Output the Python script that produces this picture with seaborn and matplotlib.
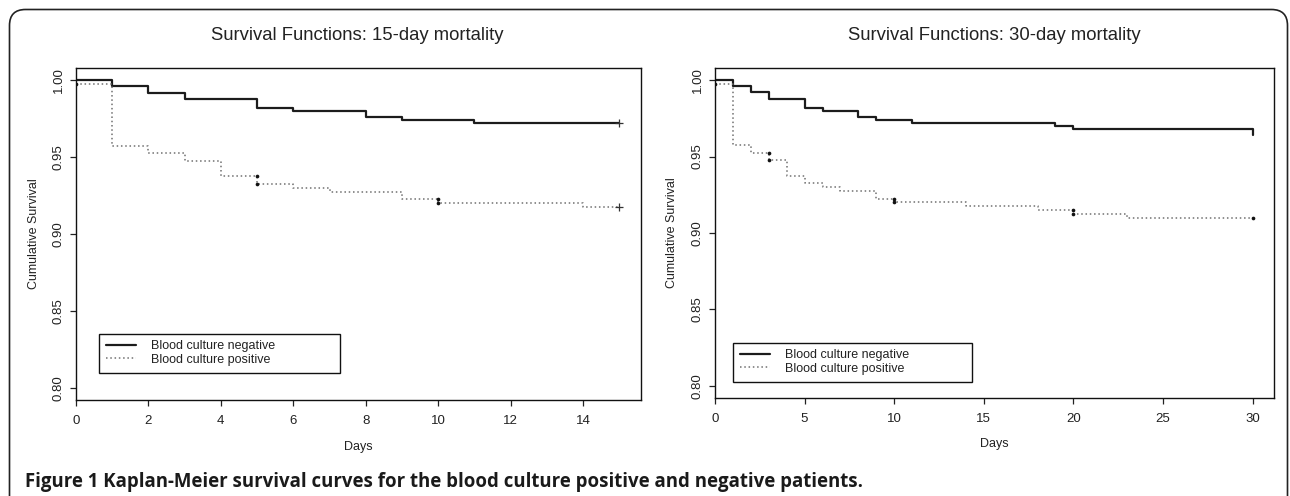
import numpy as np
import pandas as pd
import matplotlib
matplotlib.use("Agg")
import matplotlib.pyplot as plt
from matplotlib.patches import FancyBboxPatch
from matplotlib.transforms import IdentityTransform
import seaborn as sns

# ---------------- data ----------------
# 15-day panel
neg15_days = [0, 1, 2, 3, 5, 6, 8, 9, 11, 15]
neg15_surv = [1.000, 0.996, 0.992, 0.988, 0.982, 0.980, 0.976, 0.974, 0.972, 0.972]
pos15_days = [0, 1, 2, 3, 4, 5, 6, 7, 9, 10, 14, 15]
pos15_surv = [0.9975, 0.9575, 0.9525, 0.9475, 0.9375, 0.9325, 0.930, 0.9275,
              0.9225, 0.920, 0.9175, 0.9175]
dots15_days = [0, 5, 5, 10, 10]
dots15_surv = [0.9975, 0.9375, 0.9325, 0.9225, 0.920]
plus15_days = [15, 15]
plus15_surv = [0.972, 0.9175]

# 30-day panel
neg30_days = [0, 1, 2, 3, 5, 6, 8, 9, 11, 19, 20, 30]
neg30_surv = [1.000, 0.996, 0.992, 0.988, 0.982, 0.980, 0.976, 0.974, 0.972,
              0.970, 0.968, 0.964]
pos30_days = [0, 1, 2, 3, 4, 5, 6, 7, 9, 10, 14, 18, 20, 23, 30]
pos30_surv = [0.9975, 0.9575, 0.9525, 0.9475, 0.9375, 0.9325, 0.930, 0.9275,
              0.9225, 0.920, 0.9175, 0.915, 0.9125, 0.910, 0.910]
dots30_days = [0, 3, 3, 10, 10, 20, 20, 30]
dots30_surv = [0.9975, 0.9525, 0.9475, 0.9225, 0.920, 0.915, 0.9125, 0.910]

titles = ["Survival Functions: 15-day mortality", "Survival Functions: 30-day mortality"]
series_labels = ["Blood culture negative", "Blood culture positive"]
x_ticks_15 = [0, 2, 4, 6, 8, 10, 12, 14]
x_ticks_30 = [0, 5, 10, 15, 20, 25, 30]
y_ticks = [0.80, 0.85, 0.90, 0.95, 1.00]
caption = "Figure 1 Kaplan-Meier survival curves for the blood culture positive and negative patients."

# ---------------- style ----------------
sns.set_theme(style="ticks")
plt.rcParams["font.family"] = ["Liberation Sans", "DejaVu Sans"]

W, H = 1290, 496
fig = plt.figure(figsize=(W / 100, H / 100), dpi=100)
fig.patch.set_facecolor("white")

def px_axes(x0, x1, ytop, ybot):
    return fig.add_axes([x0 / W, (H - ybot) / H, (x1 - x0) / W, (ybot - ytop) / H])

ax1 = px_axes(76, 641, 68, 400)
ax2 = px_axes(715, 1274, 68, 398)

NEG_COLOR = "#1c1c1c"
POS_COLOR = "#707070"

def draw_panel(ax, nd, ns, pd_, ps, dd, ds, xmax, xticks, leg_box, plus=None):
    df_neg = pd.DataFrame({"Days": nd, "Survival": ns})
    df_pos = pd.DataFrame({"Days": pd_, "Survival": ps})
    sns.lineplot(data=df_neg, x="Days", y="Survival", ax=ax, estimator=None, sort=False,
                 drawstyle="steps-post", color=NEG_COLOR, linewidth=1.6,
                 label=series_labels[0])
    sns.lineplot(data=df_pos, x="Days", y="Survival", ax=ax, estimator=None, sort=False,
                 drawstyle="steps-post", color=POS_COLOR, linewidth=1.1,
                 linestyle=(0, (1, 1.8)), label=series_labels[1])
    sns.scatterplot(x=dd, y=ds, ax=ax, color="#111111", s=7, marker="o",
                    linewidth=0, legend=False, zorder=5)
    if plus is not None:
        sns.scatterplot(x=plus[0], y=plus[1], ax=ax, color="#333333", s=30, marker="+",
                        linewidth=0.9, legend=False, zorder=5)
    ax.set_xlim(0, xmax)
    ax.set_ylim(0.792, 1.008)
    ax.set_xticks(xticks)
    ax.set_xticklabels([str(t) for t in xticks])
    ax.set_yticks(y_ticks)
    ax.set_yticklabels([f"{t:.2f}" for t in y_ticks])
    for s in ax.spines.values():
        s.set_visible(True)
        s.set_color("#111111")
        s.set_linewidth(1.0)
    ax.tick_params(axis="both", direction="out", length=4.5, width=0.9,
                   color="#222222", labelsize=9.5, labelcolor="#222222")
    ax.tick_params(axis="x", pad=6.5)
    ax.tick_params(axis="y", pad=3.5)
    plt.setp(ax.get_yticklabels(), rotation=90, va="center")
    ax.set_xlabel("Days", fontsize=9, color="#222222")
    ax.set_ylabel("Cumulative Survival", fontsize=9, color="#222222")
    ax.xaxis.label.set_va("center")
    ax.yaxis.label.set_va("center")
    h, l = ax.get_legend_handles_labels()
    leg = ax.legend(h, l, loc="center", bbox_to_anchor=leg_box, mode="expand",
                    fontsize=9, frameon=True, fancybox=False, framealpha=1,
                    edgecolor="#111111", handlelength=2.4, handletextpad=1.2,
                    borderpad=0.55, labelspacing=0.1, borderaxespad=0)
    leg.get_frame().set_linewidth(1.0)
    for t in leg.get_texts():
        t.set_color("#222222")
    ax.set_facecolor("white")

def leg_bbox(ax_x0, ax_x1, ax_top, ax_bot, lx0, lx1, ltop, lbot):
    aw = ax_x1 - ax_x0
    ah = ax_bot - ax_top
    return ((lx0 - ax_x0) / aw, (ax_bot - lbot) / ah, (lx1 - lx0) / aw, (lbot - ltop) / ah)

draw_panel(ax1, neg15_days, neg15_surv, pos15_days, pos15_surv, dots15_days, dots15_surv,
           15.6, x_ticks_15, leg_bbox(76, 641, 68, 400, 99, 340, 332, 374),
           plus=(plus15_days, plus15_surv))
draw_panel(ax2, neg30_days, neg30_surv, pos30_days, pos30_surv, dots30_days, dots30_surv,
           31.2, x_ticks_30, leg_bbox(715, 1274, 68, 398, 733, 972, 341, 383))

ax1.xaxis.set_label_coords(0.5, -(447 - 400) / 332)
ax1.yaxis.set_label_coords(-(76 - 34) / 565, 0.5)
ax2.xaxis.set_label_coords(0.5, -(444 - 398) / 330)
ax2.yaxis.set_label_coords(-(715 - 672) / 559, 0.5)

fig.text(357 / W, 1 - 36 / H, titles[0], ha="center", va="center",
         fontsize=13.3, color="#222222")
fig.text(994 / W, 1 - 36 / H, titles[1], ha="center", va="center",
         fontsize=13.3, color="#222222")

fig.text(25 / W, (H - 487) / H, caption, ha="left", va="baseline",
         fontsize=13.4, fontweight="bold", color="#1a1a1a",
         family=["Open Sans", "DejaVu Sans"])

frame = FancyBboxPatch((9.5, -30), 1278, 486 - (-30) + 0.5,
                       boxstyle="round,pad=0,rounding_size=16",
                       transform=IdentityTransform(), facecolor="none",
                       edgecolor="#222222", linewidth=1.2, clip_on=False)
fig.add_artist(frame)

fig.savefig("out.png", dpi=100, facecolor="white")
